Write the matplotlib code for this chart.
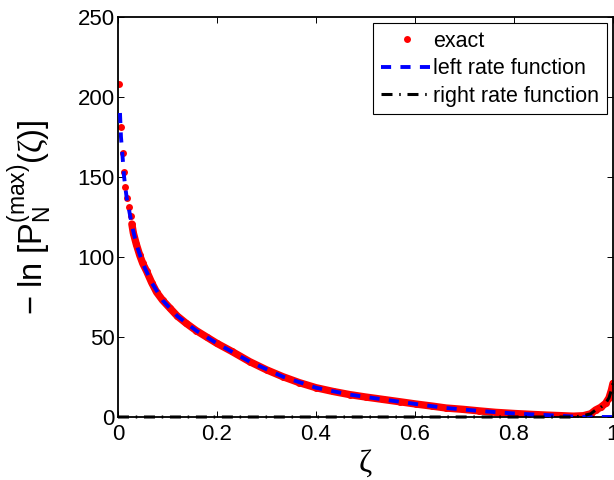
import numpy as np
import matplotlib
matplotlib.use("Agg")
import matplotlib.pyplot as plt

# exact values of -ln P_N^(max)(zeta)
exact_x = [0.0027, 0.006, 0.0094, 0.012, 0.0148, 0.018, 0.022, 0.0255, 0.028,
           0.031, 0.037, 0.044, 0.050, 0.058, 0.068, 0.078, 0.090, 0.105, 0.120,
           0.138, 0.158, 0.179, 0.200, 0.230, 0.266, 0.300, 0.333, 0.366, 0.400,
           0.434, 0.468, 0.500, 0.535, 0.570, 0.602, 0.635, 0.663, 0.696, 0.730,
           0.763, 0.800, 0.831, 0.865, 0.898, 0.920, 0.940, 0.955, 0.965, 0.975,
           0.985, 0.992, 0.997, 1.000]
exact_y = [208, 181, 165, 153, 144, 137, 131, 125.6, 120.6,
           115, 108, 101, 96, 91, 84, 78, 73, 68, 63,
           58.5, 54, 50, 46, 41, 34.6, 29.5, 25.2, 21.5, 18.3,
           16, 14, 12.5, 11, 9.5, 8.1, 6.8, 5.6, 4.8, 3.8,
           2.9, 2.2, 1.7, 1.2, 0.8, 0.5, 0.8, 2, 4.4, 6,
           8.5, 12, 17, 21]

# left rate function
left_x = [0.004, 0.006, 0.0094, 0.012, 0.015, 0.018, 0.022, 0.028, 0.037, 0.050,
          0.068, 0.090, 0.120, 0.158, 0.200, 0.266, 0.333, 0.400, 0.468, 0.535,
          0.602, 0.663, 0.730, 0.800, 0.865, 0.920, 0.950, 1.0]
left_y = [190, 175, 162, 151, 143, 136, 130, 120, 108, 96,
          84, 73, 63, 54, 46, 34.6, 25.2, 18.3, 14, 11,
          8.1, 5.6, 3.8, 2.2, 1.2, 0.3, 0, 0]

# right rate function
right_x = [0.0, 0.920, 0.940, 0.955, 0.965, 0.975, 0.985, 0.992, 0.997, 1.0]
right_y = [0, 0, 0.8, 2, 4.4, 6, 8.5, 12, 17, 21]

xticks = [0, 0.2, 0.4, 0.6, 0.8, 1]
xticklabels = ["0", "0.2", "0.4", "0.6", "0.8", "1"]
yticks = [0, 50, 100, 150, 200, 250]

plt.rcParams['font.family'] = ['Liberation Sans', 'DejaVu Sans']
plt.rcParams['mathtext.fontset'] = 'custom'
plt.rcParams['mathtext.rm'] = 'Liberation Sans'
plt.rcParams['mathtext.it'] = 'Liberation Serif'

fig = plt.figure(figsize=(6.14, 4.8), dpi=100)
ax = fig.add_axes([118 / 614, 63 / 480, 495 / 614, 400 / 480])

# dense part of the exact points forms a solid band
dense = 8
ax.plot(exact_x[dense:], exact_y[dense:], color='red', lw=5.3,
        solid_capstyle='round', zorder=2)
ax.plot(exact_x, exact_y, 'o', color='red', ms=5.0, mew=0, zorder=2,
        label='exact')
ax.plot(left_x, left_y, color='blue', lw=2.8, linestyle=(0, (2.6, 2.4)),
        zorder=3, label='left rate function')
ax.plot(right_x, right_y, color='black', lw=2.2,
        linestyle=(0, (3.6, 2.2, 0.5, 2.2)), zorder=4, clip_on=False,
        label='right rate function')

ax.set_xlim(0, 1)
ax.set_ylim(0, 250)
ax.set_xticks(xticks)
ax.set_xticklabels(xticklabels)
ax.set_yticks(yticks)
ax.tick_params(direction='in', length=4, width=0.7, labelsize=16,
               top=True, right=True)
ax.tick_params(axis='x', pad=5)
ax.tick_params(axis='y', pad=2.5)
for s in ax.spines.values():
    s.set_linewidth(1.3)

ax.set_xlabel(r'$\zeta$', fontsize=23, labelpad=2)
ax.set_ylabel(r'$\mathrm{-\ ln\ [P}_{\mathrm{N}}^{\mathrm{(max)}}\mathrm{(}\zeta\mathrm{)]}$',
              fontsize=23.5, labelpad=17)

leg = ax.legend(loc='upper right', fontsize=15.5, frameon=True, fancybox=False,
                edgecolor='black', framealpha=1, borderaxespad=0.3,
                handlelength=2.4, handletextpad=0.02, labelspacing=0.3,
                borderpad=0.35)
leg.get_frame().set_linewidth(0.8)

fig.savefig('out.png', dpi=100)
